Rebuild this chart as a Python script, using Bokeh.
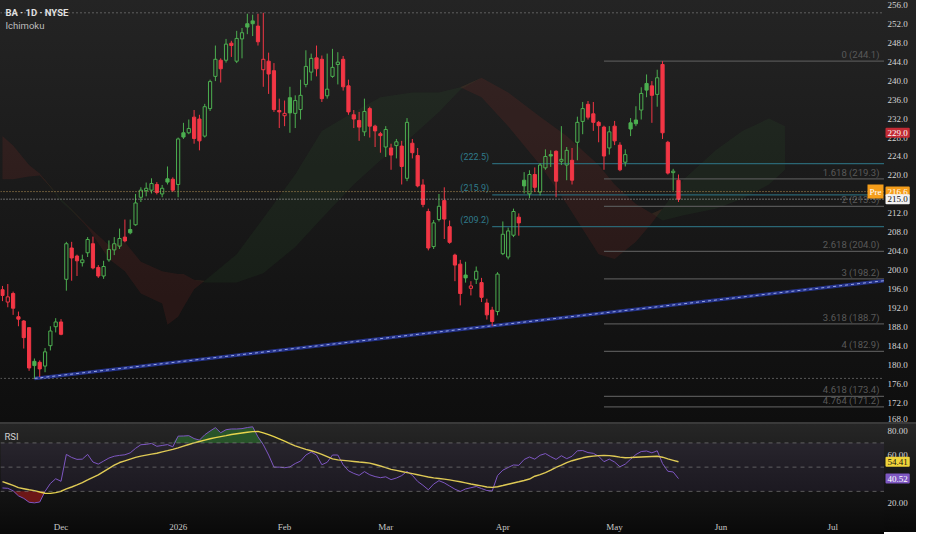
import numpy as np
import pandas as pd
from bokeh.plotting import figure
from bokeh.layouts import column, row
from bokeh.models import (Range1d, FixedTicker, Label, Span, BoxAnnotation)
from bokeh.core.properties import value
from bokeh.embed import file_html
from bokeh.resources import INLINE

# ------------------------------------------------------------------ data
first_day = "2025-11-13"
last_day = "2026-07-31"
holidays = ["2025-11-27", "2025-12-25", "2026-01-01", "2026-01-19", "2026-02-16",
            "2026-04-03", "2026-05-25", "2026-06-19", "2026-07-03"]
month_starts = ["2025-12-01", "2026-01-02", "2026-02-02", "2026-03-02", "2026-04-01",
                "2026-05-01", "2026-06-01", "2026-07-01"]
month_labels = ["Dec", "2026", "Feb", "Mar", "Apr", "May", "Jun", "Jul"]

opens = [195.9, 193.3, 195.1, 190.2, 189.3, 187.9, 180.8, 180.6, 179.8, 184.1,
         188.1, 189.1, 198.1, 204.7, 203.0, 201.6, 203.7, 205.6, 200.6, 198.8,
         202.2, 204.3, 205.1, 207.0, 208.6, 209.6, 215.4, 216.8, 216.9, 218.1,
         216.1, 219.3, 219.2, 218.1, 229.0, 229.0, 232.3, 231.9, 228.3, 234.1,
         240.9, 244.3, 244.3, 247.9, 244.1, 248.8, 252.0, 252.6, 251.5, 242.3,
         244.1, 242.1, 233.7, 232.6, 236.4, 233.1, 233.9, 239.2, 241.8, 244.8,
         244.5, 236.8, 240.9, 243.4, 244.5, 238.9, 232.8, 231.6, 229.2, 234.1,
         230.4, 228.8, 226.0, 225.8, 226.3, 226.2, 219.4, 226.8, 224.2, 218.0,
         212.4, 205.0, 210.7, 214.7, 209.2, 203.2, 201.3, 199.0, 196.2, 198.1,
         197.4, 193.1, 191.6, 191.3, 203.5, 202.8, 207.4, 211.2, 219.0, 216.1,
         220.2, 216.5, 221.6, 224.4, 225.1, 223.0, 222.2, 223.2, 227.0, 231.4,
         235.0, 233.0, 231.2, 230.2, 225.8, 230.4, 226.4, 222.8, 231.1, 231.7,
         233.8, 239.4, 238.9, 237.1, 243.4, 227.0, 220.6, 219.0]
highs = [196.7, 197.1, 195.5, 191.3, 189.5, 188.0, 181.4, 181.0, 183.6, 188.2,
         189.9, 189.7, 206.0, 206.0, 203.3, 203.3, 207.0, 207.1, 201.1, 202.0,
         206.3, 207.0, 208.8, 210.7, 210.7, 216.1, 217.5, 218.5, 219.4, 218.6,
         218.0, 221.9, 219.6, 228.0, 231.1, 231.8, 233.8, 232.8, 235.1, 240.2,
         247.4, 244.7, 248.8, 248.4, 250.5, 251.1, 254.1, 253.9, 254.1, 254.3,
         245.9, 243.7, 236.2, 235.8, 238.7, 236.9, 240.2, 246.4, 245.7, 247.4,
         245.3, 245.7, 246.7, 246.0, 245.2, 240.2, 233.8, 233.4, 236.2, 234.5,
         230.7, 229.2, 230.4, 226.7, 227.7, 227.3, 232.1, 227.7, 225.8, 219.2,
         213.0, 210.6, 216.1, 217.5, 210.5, 203.5, 202.2, 201.8, 197.7, 200.8,
         198.4, 194.0, 192.3, 199.6, 210.3, 209.0, 213.0, 212.0, 220.7, 221.1,
         221.7, 222.6, 225.5, 225.3, 225.3, 230.4, 226.0, 225.8, 232.4, 235.5,
         235.7, 235.5, 231.5, 230.5, 230.4, 231.5, 227.0, 225.5, 232.1, 234.6,
         238.6, 241.3, 239.9, 242.3, 244.1, 227.3, 221.4, 220.2]
lows = [193.5, 192.2, 190.6, 188.2, 183.5, 178.8, 177.2, 177.5, 178.5, 183.1,
        186.9, 186.3, 195.7, 197.8, 198.8, 200.8, 202.8, 200.2, 198.4, 198.2,
        201.8, 203.2, 204.5, 205.9, 207.6, 209.4, 214.4, 215.6, 216.2, 216.0,
        215.4, 218.1, 216.5, 215.4, 227.7, 228.7, 226.7, 225.3, 228.0, 233.6,
        239.9, 239.6, 243.8, 245.0, 243.7, 244.7, 249.8, 249.4, 247.4, 238.7,
        237.2, 233.4, 230.0, 230.4, 229.0, 230.0, 231.8, 238.6, 240.0, 240.9,
        235.5, 236.2, 240.6, 239.2, 237.9, 232.8, 230.0, 227.3, 228.3, 228.0,
        226.0, 224.8, 223.9, 221.2, 223.6, 218.1, 218.8, 223.6, 217.5, 213.3,
        204.2, 204.5, 210.3, 206.6, 205.6, 197.7, 192.6, 197.4, 194.7, 197.1,
        193.3, 189.6, 188.2, 190.5, 203.2, 202.3, 207.0, 207.3, 216.2, 215.2,
        216.5, 215.8, 221.2, 221.8, 215.4, 222.2, 219.0, 218.1, 223.2, 228.7,
        231.8, 229.4, 227.0, 221.2, 224.4, 226.4, 220.9, 221.9, 228.3, 230.4,
        231.8, 236.5, 231.1, 234.5, 227.7, 220.2, 216.8, 214.4]
closes = [194.7, 194.4, 192.0, 189.7, 185.8, 179.4, 179.9, 179.2, 182.8, 187.2,
          189.1, 186.5, 205.6, 202.6, 202.0, 202.2, 206.5, 200.5, 198.8, 200.8,
          204.4, 205.6, 206.7, 206.2, 207.9, 214.2, 216.9, 217.3, 218.3, 216.4,
          217.3, 218.6, 216.9, 227.7, 228.1, 229.9, 227.8, 227.3, 234.5, 239.8,
          244.5, 242.5, 247.7, 247.4, 248.9, 250.1, 251.3, 252.0, 248.2, 244.5,
          241.4, 233.9, 233.4, 233.1, 233.2, 235.8, 236.9, 243.0, 244.7, 242.5,
          236.2, 238.2, 242.8, 243.9, 238.7, 233.4, 231.9, 230.2, 233.5, 230.4,
          229.4, 228.4, 229.7, 224.3, 227.1, 221.9, 231.2, 224.8, 217.8, 213.9,
          204.7, 210.0, 213.5, 210.8, 205.9, 201.1, 195.1, 198.4, 196.7, 199.8,
          194.3, 190.6, 189.2, 199.2, 207.6, 208.3, 212.4, 210.0, 217.8, 220.2,
          217.5, 222.2, 224.0, 224.1, 218.8, 223.4, 225.3, 219.0, 231.2, 234.1,
          232.3, 231.2, 230.5, 224.1, 229.2, 227.3, 221.2, 224.4, 229.8, 230.9,
          237.3, 238.0, 236.9, 240.6, 229.0, 220.5, 220.9, 215.0]

# Ichimoku cloud (leading spans, shifted forward)
cloud_idx = [0, 2, 5, 7, 11, 16, 20, 23, 26, 30, 31, 33, 34, 36, 38, 44, 49, 55, 60, 66,
             71, 77, 82, 86, 90, 95, 101, 106, 112, 115, 119, 122, 124, 128, 134, 139, 144, 147]
span_a = [219.2, 219.2, 219.8, 220.0, 215.1, 209.0, 202.4, 199.8, 195.1, 193.0,
          188.5, 190.2, 192.2, 196.0, 197.8, 203.4, 211.0, 220.2, 229.4, 233.4,
          236.5, 237.5, 237.5, 238.6, 236.5, 230.4, 222.2, 214.0, 203.4, 202.4,
          206.0, 210.0, 213.0, 219.2, 225.3, 229.4, 232.0, 230.4]
span_b = [228.3, 226.3, 222.2, 220.4, 214.5, 209.4, 205.3, 205.9, 201.8, 199.8,
          199.6, 199.2, 199.2, 198.0, 197.4, 197.4, 199.4, 204.9, 211.0, 218.1,
          223.2, 228.3, 233.4, 238.1, 240.6, 237.5, 232.4, 228.3, 222.2, 218.1,
          214.0, 212.0, 210.5, 211.6, 213.0, 215.1, 218.1, 221.2]

rsi = [32.8, 32.5, 30.5, 26.3, 24.2, 21.0, 20.5, 21.2, 30.0, 36.5,
       40.4, 38.3, 60.5, 58.0, 56.4, 56.6, 60.5, 54.2, 52.5, 55.0,
       57.5, 59.0, 59.7, 60.2, 61.8, 65.5, 68.5, 68.8, 69.6, 67.2,
       67.9, 68.6, 66.8, 75.6, 75.7, 76.0, 73.6, 72.3, 76.7, 79.8,
       82.6, 78.4, 80.9, 81.5, 81.5, 81.8, 82.7, 83.3, 75.0, 68.5,
       60.0, 50.0, 50.0, 49.5, 50.2, 53.0, 55.0, 60.0, 62.5, 60.0,
       52.0, 54.0, 60.0, 60.0, 52.0, 47.0, 44.8, 43.2, 46.3, 43.7,
       42.2, 41.3, 42.0, 39.7, 41.0, 43.0, 46.5, 43.2, 38.2, 35.0,
       31.3, 36.0, 38.8, 37.0, 34.4, 31.8, 29.9, 32.0, 33.0, 34.0,
       32.3, 30.7, 30.3, 43.0, 47.5, 49.7, 51.8, 51.5, 56.3, 58.4,
       56.6, 59.8, 61.2, 58.6, 56.4, 59.4, 57.0, 59.0, 63.5, 63.7,
       62.0, 61.4, 59.0, 54.5, 56.6, 54.2, 50.3, 52.5, 56.5, 60.4,
       62.9, 63.3, 61.8, 63.5, 53.0, 46.6, 46.0, 40.52]
rsi_ma = [38.0, 36.5, 35.0, 33.1, 32.2, 31.3, 30.6, 29.5, 28.4, 28.3,
          29.0, 30.1, 32.0, 33.6, 35.3, 37.3, 39.4, 41.6, 43.6, 46.3,
          49.0, 51.6, 53.8, 55.2, 56.6, 58.0, 59.1, 59.9, 60.7, 61.5,
          62.6, 63.6, 64.7, 65.9, 67.3, 68.7, 70.0, 71.2, 72.3, 73.4,
          74.4, 75.2, 76.0, 76.9, 77.6, 78.2, 78.8, 79.3, 79.5, 78.3,
          76.9, 75.2, 73.4, 71.4, 69.4, 67.6, 66.1, 64.7, 63.5, 62.2,
          60.6, 58.7, 56.8, 56.0, 55.6, 55.2, 54.7, 54.2, 53.8, 53.3,
          52.2, 50.9, 49.6, 48.2, 47.3, 46.4, 45.5, 44.6, 43.7, 42.8,
          41.9, 41.1, 40.6, 40.1, 39.5, 38.7, 37.9, 37.0, 36.1, 35.3,
          34.5, 33.6, 33.3, 33.8, 34.8, 35.9, 36.9, 37.9, 39.0, 40.2,
          42.5, 43.8, 45.5, 47.5, 49.8, 51.6, 53.7, 55.3, 56.5, 57.7,
          58.6, 59.1, 59.5, 59.7, 59.5, 59.0, 58.3, 57.7, 57.9, 58.2,
          58.4, 58.6, 58.8, 59.0, 58.2, 56.8, 55.6, 54.41]

price_ticks = list(range(168, 257, 4))
rsi_ticks = [20, 40, 60, 80]
rsi_levels = [70, 50, 30]

fib_levels = ["0", "1.618", "2", "2.618", "3", "3.618", "4", "4.618", "4.764"]
fib_prices = [244.1, 219.3, 213.5, 204.0, 198.2, 188.7, 182.9, 173.4, 171.2]
fib_start = 113
hline_prices = [222.5, 215.9, 209.2]
hline_start = 92
trend_idx = [6, 92]
trend_price = [177.2, 188.3]
marked_price = 229.0
premarket_price = 216.6

# ------------------------------------------------------------------ style
GREEN = "#4caf50"
RED = "#f23645"
AX_FONT = "Liberation Sans Narrow"
TXT_FONT = "Roboto"
FW = 884          # plot frame width
AW = 32           # price-scale strip width
MAIN_H = 422
RSI_H = 82
XAX_H = 26

trading_days = [d for d in pd.bdate_range(first_day, last_day)
                if d.strftime("%Y-%m-%d") not in holidays]
day_pos = {d.strftime("%Y-%m-%d"): i for i, d in enumerate(trading_days)}
month_pos = [day_pos[d] for d in month_starts]

o = np.array(opens); h = np.array(highs); l = np.array(lows); c = np.array(closes)
idx = np.arange(len(c))
prev_c = np.concatenate([[o[0]], c[:-1]])
col = np.where(c >= prev_c, GREEN, RED)
hollow = c > o
top = np.maximum(o, c)
bot = np.minimum(o, c)

XR = Range1d(-0.37, 165.7)
YR = Range1d(167.9, 256.9)
RR = Range1d(17.5, 85.2)
SR = Range1d(0, 1)

MAIN_BG = ("linear-gradient(180deg, #242424 0%, #1c1c1c 35%, #141414 70%, "
           "#0e0e0e calc(100% - 2px), #3a3a3a calc(100% - 2px))")
RSI_BG = "linear-gradient(180deg, #262626 0%, #181818 45%, #101010 76%, #090909 100%)"


def base_fig(xr, yr, fw, fh, bottom):
    f = figure(x_range=xr, y_range=yr, frame_width=fw, frame_height=fh,
               output_backend="svg", toolbar_location=None,
               min_border_left=0, min_border_right=0, min_border_top=0,
               min_border_bottom=bottom,
               background_fill_color=None, border_fill_color=None, outline_line_color=None)
    f.xgrid.visible = False
    f.ygrid.visible = False
    f.yaxis.visible = False
    return f


# ------------------------------------------------------------------ main pane
p = base_fig(XR, YR, FW, MAIN_H, 2)
p.styles = {"background": MAIN_BG}
p.xaxis.visible = False

# Ichimoku cloud
ca = np.array(span_a); cb = np.array(span_b)
p.varea(x=cloud_idx, y1=cb, y2=np.maximum(ca, cb), fill_color="#43a047", fill_alpha=0.075)
p.varea(x=cloud_idx, y1=ca, y2=np.maximum(ca, cb), fill_color="#e53935", fill_alpha=0.10)

# fib extension
p.segment(x0=fib_start, y0=fib_prices, x1=XR.end, y1=fib_prices,
          line_color="#555555", line_width=1.2)
p.text(x=XR.end, y=fib_prices, text=[f"{a} ({b:.1f})" for a, b in zip(fib_levels, fib_prices)],
       text_align="right", text_baseline="bottom", x_offset=-5, y_offset=-1,
       text_color="#595959", text_font=value(TXT_FONT), text_font_size="9.5px")

# teal levels
p.segment(x0=hline_start, y0=hline_prices, x1=XR.end, y1=hline_prices,
          line_color="#2a6674", line_width=1.1)
p.text(x=hline_start, y=hline_prices, text=[f"({v:.1f})" for v in hline_prices],
       text_align="right", text_baseline="bottom", x_offset=-3, y_offset=-2,
       text_color="#2f7a8a", text_font=value(TXT_FONT), text_font_size="9px")

# price lines
p.add_layout(Span(location=float(h.max()), dimension="width", line_color="#9c9c9c",
                  line_dash="1 3", line_width=1))
p.add_layout(Span(location=float(l.min()), dimension="width", line_color="#9c9c9c",
                  line_dash="1 3", line_width=1))
p.add_layout(Span(location=premarket_price, dimension="width", line_color="#b99556",
                  line_dash="1 2", line_width=1))
p.add_layout(Span(location=float(c[-1]), dimension="width", line_color="#bdbdbd",
                  line_dash="1 2", line_width=1))

# trend line
slope = (trend_price[1] - trend_price[0]) / (trend_idx[1] - trend_idx[0])
tx = [trend_idx[0], XR.end + 3]
ty = [trend_price[0], trend_price[0] + slope * (tx[1] - trend_idx[0])]
p.line(tx, ty, line_color="#25338a", line_width=3.5)
p.line(tx, ty, line_color="#9aa8e6", line_width=1, line_dash="3 3")

# candles
p.segment(x0=idx, y0=h, x1=idx, y1=top, line_color=col, line_width=1)
p.segment(x0=idx, y0=bot, x1=idx, y1=l, line_color=col, line_width=1)
hi = np.where(hollow)[0]
fi = np.where(~hollow)[0]
p.vbar(x=idx[hi], width=0.6, top=top[hi], bottom=bot[hi], fill_alpha=0,
       line_color=col[hi], line_width=1)
p.vbar(x=idx[fi], width=0.6, top=top[fi], bottom=bot[fi], fill_color=col[fi],
       line_color=col[fi], line_width=1)

# texts
p.add_layout(Label(x=XR.start, y=YR.end, x_offset=5, y_offset=-6, text="BA · 1D · NYSE",
                   text_baseline="top", text_color="#e0e0e0", text_font=TXT_FONT,
                   text_font_size="9.5px", text_font_style="bold"))
p.add_layout(Label(x=XR.start, y=YR.end, x_offset=5, y_offset=-19, text="Ichimoku",
                   text_baseline="top", text_color="#bdbdbd", text_font=TXT_FONT,
                   text_font_size="9.5px"))
p.add_layout(Label(x=XR.end, y=premarket_price, x_offset=-1, text="Pre", text_baseline="middle",
                   text_align="right", text_color="#ffffff", text_font=AX_FONT,
                   text_font_size="9px", background_fill_color="#f59d1a", padding=2))

# ------------------------------------------------------------------ price scale strip
def scale_strip(yr, fh, bottom, ticks, fmt, bg):
    s = base_fig(SR, yr, AW, fh, bottom)
    s.styles = {"background": bg}
    s.xaxis.visible = False
    near_bottom = [(t - yr.start) < 1.5 for t in ticks]
    s.text(x=0, y=ticks, text=[fmt.format(t) for t in ticks], x_offset=3,
           text_align="left", text_baseline=["bottom" if nb else "middle" for nb in near_bottom],
           text_color="#d4d4d4", text_font=value(AX_FONT), text_font_size="9px")
    return s


def axis_box(fig, yv, txt, bg, fg):
    fig.add_layout(Label(x=0, y=yv, x_offset=1, text=txt, text_baseline="middle",
                         text_align="left", text_color=fg, text_font=AX_FONT,
                         text_font_size="9px", background_fill_color=bg,
                         padding=2, border_radius=1))


pr = scale_strip(YR, MAIN_H, 2, price_ticks, "{:.1f}", MAIN_BG)
axis_box(pr, marked_price, f"{marked_price:.1f}", "#c42b34", "#ffffff")
axis_box(pr, premarket_price, f"{premarket_price:.1f}", "#f59d1a", "#ffffff")
axis_box(pr, float(c[-1]), f"{c[-1]:.1f}", "#f2f2f2", "#111111")

# ------------------------------------------------------------------ RSI pane
q = base_fig(XR, RR, FW, RSI_H, XAX_H)
q.styles = {"background": RSI_BG}
q.add_layout(BoxAnnotation(bottom=rsi_levels[2], top=rsi_levels[0], fill_color="#7e57c2",
                           fill_alpha=0.08, line_color=None))
for lv in rsi_levels:
    q.add_layout(Span(location=lv, dimension="width", line_color="#8a8a8a",
                      line_dash="4 4", line_width=1, line_alpha=0.6))
r = np.array(rsi)
q.varea(x=idx, y1=rsi_levels[0], y2=np.maximum(r, rsi_levels[0]), fill_color="#2e7d32",
        fill_alpha=0.55)
q.varea(x=idx, y1=np.minimum(r, rsi_levels[2]), y2=rsi_levels[2], fill_color="#b71c1c",
        fill_alpha=0.55)
q.line(idx, rsi, line_color="#7e57c2", line_width=1)
q.line(idx, rsi_ma, line_color="#e8d44d", line_width=1.4)

qx = q.xaxis[0]
qx.ticker = FixedTicker(ticks=month_pos)
qx.major_label_overrides = {pos: lab for pos, lab in zip(month_pos, month_labels)}
qx.axis_line_color = None
qx.major_tick_line_color = None
qx.minor_tick_line_color = None
qx.major_label_standoff = 9
qx.major_label_text_color = "#c8c8c8"
qx.major_label_text_font = AX_FONT
qx.major_label_text_font_size = "9px"

q.add_layout(Label(x=XR.start, y=RR.end, x_offset=4, y_offset=-6, text="RSI",
                   text_baseline="top", text_color="#d0d0d0", text_font=TXT_FONT,
                   text_font_size="9.5px"))

qr = scale_strip(RR, RSI_H, XAX_H, rsi_ticks, "{:.2f}", RSI_BG)
axis_box(qr, rsi_ma[-1], f"{rsi_ma[-1]:.2f}", "#f0d43a", "#111111")
axis_box(qr, rsi[-1], f"{rsi[-1]:.2f}", "#7e57c2", "#ffffff")

layout = column(row(p, pr, spacing=0), row(q, qr, spacing=0), spacing=0)
open("out.html", "w").write(file_html(layout, INLINE))
